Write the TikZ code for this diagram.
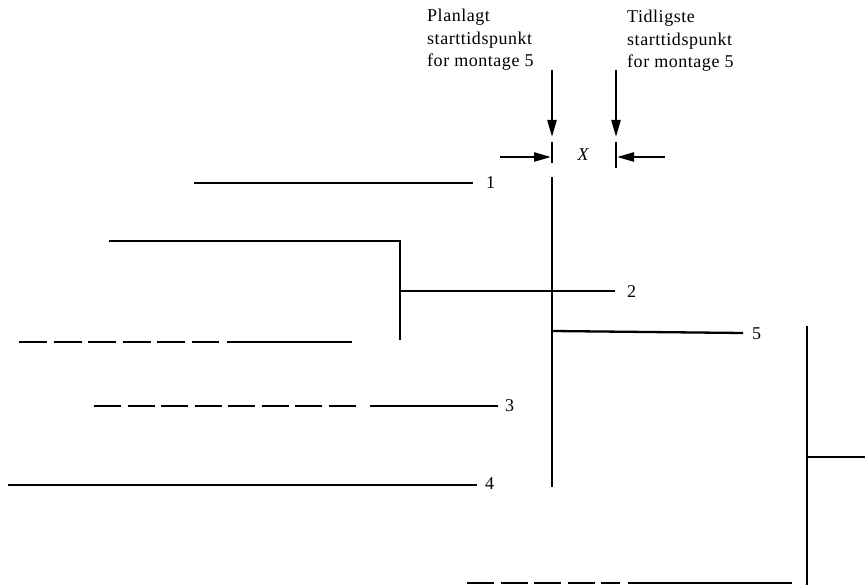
\documentclass[tikz,border=0pt]{standalone}
\usepackage{fontspec}
\setmainfont{Liberation Serif}
\usetikzlibrary{arrows.meta}
\tikzset{
  bar/.style={line width=2.3pt},
  post/.style={line width=2.7pt},
  pointer/.style={line width=2.4pt,-{Triangle[length=17pt,width=9pt]}},
  dashbar/.style={line width=2.3pt,dash pattern=on 28pt off 6.5pt},
  head/.style={anchor=base west,inner sep=0pt,font=\fontsize{18}{21}\selectfont\addfontfeature{LetterSpace=3}},
  num/.style={anchor=west,inner sep=0pt,font=\fontsize{18}{21}\selectfont}
}
\begin{document}
\begin{tikzpicture}[x=1pt,y=-1pt]
\useasboundingbox (0,0) rectangle (865,585);
% headings
\node[head] (p1) at (427,22) {Planlagt};
\node[head] (p2) at (427,45) {starttidspunkt};
\node[head] (p3) at (427,67) {for montage 5};
\node[head] (t1) at (627,23) {Tidligste};
\node[head] (t2) at (627,45.5) {starttidspunkt};
\node[head] (t3) at (627,68) {for montage 5};
% down arrows
\coordinate (a1s) at (552,70); \coordinate (a1e) at (552,137);
\coordinate (a2s) at (616,70); \coordinate (a2e) at (616,137);
\draw[pointer] (a1s) -- (a1e);
\draw[pointer] (a2s) -- (a2e);
% X interval
\draw[post] (552,142) -- (552,163);
\draw[post] (616,142) -- (616,168);
\coordinate (h1s) at (500,157); \coordinate (h1e) at (551,157);
\coordinate (h2s) at (665,157); \coordinate (h2e) at (617,157);
\draw[pointer] (h1s) -- (h1e);
\draw[pointer] (h2s) -- (h2e);
\node[inner sep=0pt,font=\fontsize{18}{21}\selectfont\itshape] (x) at (583,155) {X};
% activity 1
\draw[bar] (194,183) -- (473,183);
\node[num] (n1) at (486,183) {1};
% activity 2 (bracket)
\draw[bar] (109,241) -- (400,241) -- (400,340);
\draw[bar] (400,291) -- (615,291);
\node[num] (n2) at (627,292) {2};
% dashed line
\draw[dashbar] (19,342) -- (219,342);
\draw[bar] (227,342) -- (352,342);
% activity 3
\draw[dashbar,dash pattern=on 27pt off 6.5pt] (94,406) -- (356,406);
\draw[bar] (370,406) -- (498,406);
\node[num] (n3) at (505,406) {3};
% activity 4
\draw[bar] (8,485) -- (477,485);
\node[num] (n4) at (485,484) {4};
% vertical for montage 5
\draw[post] (552,177) -- (552,487);
\draw[bar] (552,331) -- (743,333);
\node[num] (n5) at (752,334) {5};
% right bracket
\draw[post] (807,326) -- (807,585);
\draw[bar] (807,457) -- (865,457);
% bottom line
\draw[dashbar,dash pattern=on 27pt off 6.5pt] (467,583) -- (620,583);
\draw[bar] (628,583) -- (792,583);
\end{tikzpicture}
\end{document}
